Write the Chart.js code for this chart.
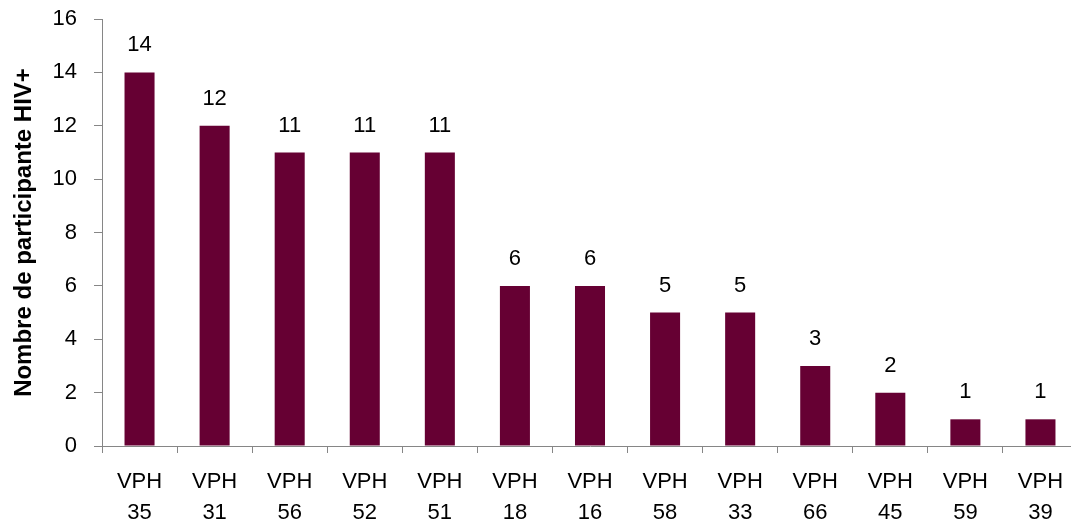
<!DOCTYPE html>
<html lang="fr">
<head>
  <meta charset="UTF-8">
  <title>Nombre de participante HIV+ par type de VPH</title>
  <script src="https://cdn.jsdelivr.net/npm/chart.js"></script>
  <style>
    html, body {
      margin: 0;
      padding: 0;
      background: #fff;
      overflow: hidden;
    }
    #wrap {
      width: 1078px;
      height: 526px;
    }
  </style>
</head>
<body>
  <div id="wrap"><canvas id="graphique"></canvas></div>

  <script>
    // Données
    const types = ['35', '31', '56', '52', '51', '18', '16', '58', '33', '66', '45', '59', '39'];
    const participants = [14, 12, 11, 11, 11, 6, 6, 5, 5, 3, 2, 1, 1];
    const ticksY = [0, 2, 4, 6, 8, 10, 12, 14, 16];

    const etiquettes = types.map(t => ['VPH', t]);
    const police = "'Liberation Sans', Arial, sans-serif";

    // Valeurs au-dessus des barres
    const valeursBarres = {
      id: 'valeursBarres',
      afterDatasetsDraw(chart) {
        const ctx = chart.ctx;
        const meta = chart.getDatasetMeta(0);
        ctx.save();
        ctx.font = '22px ' + police;
        ctx.fillStyle = '#000';
        ctx.textAlign = 'center';
        ctx.textBaseline = 'middle';
        meta.data.forEach((barre, i) => {
          ctx.fillText(String(participants[i]), barre.x, barre.y - 27);
        });
        ctx.restore();
      }
    };

    new Chart(document.getElementById('graphique'), {
      type: 'bar',
      data: {
        labels: etiquettes,
        datasets: [{
          data: participants,
          backgroundColor: '#660033',
          borderWidth: 0,
          categoryPercentage: 0.4,
          barPercentage: 1
        }]
      },
      options: {
        responsive: true,
        maintainAspectRatio: false,
        animation: false,
        layout: { padding: { top: 19, right: 0, left: 0, bottom: 0 } },
        plugins: {
          legend: { display: false },
          tooltip: { enabled: false }
        },
        scales: {
          x: {
            offset: true,
            afterFit: s => { s.height = 80; s.paddingLeft = 0; s.paddingRight = 0; },
            grid: {
              offset: true,
              drawOnChartArea: false,
              drawTicks: true,
              tickLength: 7,
              color: '#868686'
            },
            border: { color: '#868686', width: 1 },
            ticks: {
              color: '#000',
              font: { family: police, size: 22, lineHeight: 1.4 },
              padding: 14,
              maxRotation: 0,
              autoSkip: false
            }
          },
          y: {
            min: 0,
            max: 16,
            afterFit: s => { s.width = 102; s.paddingTop = 0; s.paddingBottom = 0; },
            afterBuildTicks: s => { s.ticks = ticksY.map(v => ({ value: v })); },
            grid: {
              drawOnChartArea: false,
              drawTicks: true,
              tickLength: 8,
              color: '#868686'
            },
            border: { color: '#868686', width: 1 },
            ticks: {
              color: '#000',
              font: { family: police, size: 22 },
              padding: 17
            },
            title: {
              display: true,
              text: 'Nombre de participante HIV+',
              color: '#000',
              font: { family: police, size: 24, weight: 'bold' },
              padding: { top: 10, bottom: 0 }
            }
          }
        }
      },
      plugins: [valeursBarres]
    });
  </script>
</body>
</html>
